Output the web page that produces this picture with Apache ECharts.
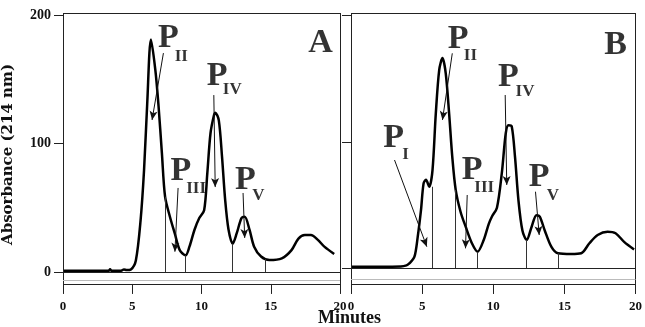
<!DOCTYPE html>
<html>
<head>
<meta charset="utf-8">
<script src="https://cdn.jsdelivr.net/npm/echarts@6/dist/echarts.min.js"></script>
<style>
  html, body { margin: 0; background: #fff; }
  #chart { width: 645px; height: 327px; }
</style>
</head>
<body>
<div id="chart"></div>
<script>
// minutes / absorbance
const timeA = [0, 2, 3.3, 3.4, 3.5, 4.2, 4.4, 4.6, 4.9, 5.26, 5.6, 5.85, 6.08, 6.35, 6.67, 6.9, 7.14, 7.37, 7.72, 8.07, 8.43, 8.85, 9.13, 9.49, 9.84, 10.19, 10.42, 10.65, 10.9, 11.0, 11.25, 11.48, 11.71, 11.95, 12.25, 12.54, 12.89, 13.12, 13.47, 13.8, 14.3, 14.9, 15.8, 16.5, 17.0, 17.46, 17.9, 18.4, 18.87, 19.58];
const absA  = [1, 1, 1, 2.2, 1, 1, 2, 1.5, 2, 9, 40, 79, 131, 181, 157, 129, 92.5, 58.6, 43, 30, 17, 13, 19.7, 32.7, 42, 48, 77, 108, 122, 124, 118, 90, 56, 33, 22, 30, 42, 43, 32.7, 19.7, 12, 9.3, 10.6, 17, 26, 28.8, 28.8, 25, 19.7, 14];

const timeB = [0, 2, 3.5, 3.9, 4.1, 4.46, 4.69, 4.92, 5.1, 5.27, 5.5, 5.73, 5.96, 6.2, 6.43, 6.66, 6.9, 7.12, 7.36, 7.7, 8.06, 8.5, 8.9, 9.33, 9.68, 9.91, 10.26, 10.6, 10.88, 11.07, 11.3, 11.53, 11.77, 12.05, 12.35, 12.7, 13.04, 13.27, 13.62, 14.09, 14.55, 15.48, 16.18, 16.76, 17.34, 18.04, 18.6, 19.2, 19.9];
const absB  = [1.4, 1.4, 1.6, 2.5, 4, 9.3, 25, 46, 67, 70, 64.5, 77.7, 122, 156.6, 166, 154, 122, 88, 62, 44.8, 33, 19.9, 13.3, 22.5, 35, 41, 48, 75, 106.7, 113, 112, 88, 54, 30, 22.5, 33, 42, 41, 30, 17, 12, 11.4, 12, 19.9, 26.4, 29, 27.8, 21, 15];

const xTicks = [0, 5, 10, 15, 20];
const yTicks = [0, 100, 200];

// vertical drop lines [minute, absorbance at curve]
const dropsA = [[7.37, 58.6], [8.85, 13], [12.25, 22], [14.6, 10]];
const dropsB = [[5.68, 64.5], [7.36, 62], [8.87, 13], [12.35, 22.5], [14.6, 12]];

// peak labels [minute, absorbance, text, style]
const labelsA = [
  [7.6, 181.9, 'P', 'p'], [8.54, 168, 'II', 's'],
  [8.52, 78.2, 'P', 'p'], [9.61, 64.6, 'III', 's'],
  [11.13, 152, 'P', 'p'], [12.22, 141.6, 'IV', 's'],
  [13.17, 71.6, 'P', 'p'], [14.1, 59.1, 'V', 's'],
  [18.6, 178, 'A', 'p']
];
const labelsB = [
  [3.0, 102.7, 'P', 'p'], [3.84, 89.5, 'I', 's'],
  [7.53, 180.9, 'P', 'p'], [8.4, 167.7, 'II', 's'],
  [8.52, 77.7, 'P', 'p'], [9.37, 64, 'III', 's'],
  [11.07, 151.3, 'P', 'p'], [12.23, 139.5, 'IV', 's'],
  [13.22, 71.8, 'P', 'p'], [14.2, 57.2, 'V', 's'],
  [18.6, 176.3, 'B', 'p']
];

// pointer arrows [from minute, from abs, to minute, to abs]
const arrowsA = [[7.25, 170.4, 6.43, 118.3], [8.31, 65.4, 8.08, 15.8], [10.89, 137.7, 10.99, 66.1], [13.0, 61.5, 13.12, 26.5]];
const arrowsB = [[3.06, 85.6, 5.33, 17.2], [7.12, 169.8, 6.43, 117.2], [8.17, 58, 8.05, 15.9], [10.84, 136.9, 10.95, 65.9], [12.97, 60.6, 13.23, 26.4]];

// axis levels (absorbance units) for each panel: frame bottom, grey rule, tick ends, axis range
const yMax = 201.6;
const frameLow = [-9.34, -12.2];
const greyLine = [-6.2, -8.3];
const tickLow = [-17.1, -20.1];
const yMins = [-18.7, -21.7];

const serif = 'Liberation Serif';
const chart = echarts.init(document.getElementById('chart'));

function pairs(t, v) { return t.map((x, i) => [x, v[i]]); }

function xAxis(idx) {
  return {
    type: 'value', gridIndex: idx, min: 0, max: 20, interval: 5,
    axisLine: { show: false },
    axisTick: { show: false },
    axisLabel: { margin: 4, color: '#111', fontFamily: serif, fontWeight: 'bold', fontSize: 13 },
    splitLine: { show: false }
  };
}

function yAxis(idx, showLabels) {
  return {
    type: 'value', gridIndex: idx, min: yMins[idx], max: yMax,
    axisLine: { show: true, onZero: false, lineStyle: { color: 'rgba(0,0,0,0)' } },
    axisTick: { show: true, length: 9, customValues: yTicks, lineStyle: { color: '#222' } },
    axisLabel: { show: showLabels, customValues: yTicks, margin: 12, color: '#111', fontFamily: serif, fontWeight: 'bold', fontSize: 14 },
    splitLine: { show: false }
  };
}

function seg(x1, y1, x2, y2, style) {
  const a = { coord: [x1, y1] };
  if (style) a.lineStyle = style;
  return [a, { coord: [x2, y2] }];
}

function curve(idx, t, v, drops) {
  const fb = frameLow[idx];
  const frame = { color: '#222', width: 1 };
  const lines = drops.map(d => seg(d[0], 0, d[0], d[1]));
  // frame of the panel
  lines.push(seg(0, fb, 0, yMax, frame));
  lines.push(seg(20, fb, 20, yMax, frame));
  lines.push(seg(0, yMax, 20, yMax, frame));
  lines.push(seg(0, fb, 20, fb, { color: '#222', width: 1.2 }));
  // baseline and grey rule
  lines.push(seg(0, 0, 20, 0, frame));
  lines.push(seg(0, greyLine[idx], 20, greyLine[idx], { color: '#bbb', width: 1 }));
  // outward x ticks
  xTicks.forEach(x => lines.push(seg(x, fb, x, tickLow[idx], frame)));
  return {
    type: 'line', xAxisIndex: idx, yAxisIndex: idx, data: pairs(t, v),
    showSymbol: false, smooth: 0.3, clip: false,
    lineStyle: { color: '#000', width: 2.5 },
    markLine: {
      silent: true, symbol: ['none', 'none'], label: { show: false },
      lineStyle: { color: '#333', width: 1, type: 'solid' },
      data: lines
    },
    z: 3
  };
}

function labels(idx, data, arrows) {
  return {
    type: 'scatter', xAxisIndex: idx, yAxisIndex: idx, data: data,
    symbolSize: 1, itemStyle: { color: 'transparent' }, clip: false,
    label: {
      show: true, position: 'inside', color: '#000',
      formatter: p => '{' + p.data[3] + '|' + p.data[2] + '}',
      rich: {
        p: { fontFamily: serif, fontWeight: 'bold', fontSize: 34, color: '#000' },
        s: { fontFamily: serif, fontWeight: 'bold', fontSize: 17, color: '#000' }
      }
    },
    markLine: {
      silent: true, symbol: ['none', 'arrow'], symbolSize: [6, 9], label: { show: false },
      lineStyle: { color: '#111', width: 1, type: 'solid' },
      data: arrows.map(a => seg(a[0], a[1], a[2], a[3]))
    },
    z: 4
  };
}

chart.setOption({
  animation: false,
  grid: [
    { left: 57, top: 13, width: 283, height: 283, show: false },
    { left: 351, top: 13, width: 288, height: 283, show: false }
  ],
  xAxis: [xAxis(0), xAxis(1)],
  yAxis: [
    Object.assign(yAxis(0, true), {
      name: 'Absorbance (214 nm)', nameLocation: 'middle', nameGap: 23, nameRotate: 90,
      nameTextStyle: { fontFamily: 'DejaVu Serif', fontWeight: 'bold', fontSize: 15, color: '#111', padding: [0, 0, 24, 0] }
    }),
    yAxis(1, false)
  ],
  graphic: [{
    type: 'text', left: 318, top: 309,
    style: { text: 'Minutes', fontFamily: serif, fontWeight: 'bold', fontSize: 18, fill: '#111' }
  }],
  series: [
    curve(0, timeA, absA, dropsA),
    curve(1, timeB, absB, dropsB),
    labels(0, labelsA, arrowsA),
    labels(1, labelsB, arrowsB)
  ]
});
</script>
</body>
</html>
